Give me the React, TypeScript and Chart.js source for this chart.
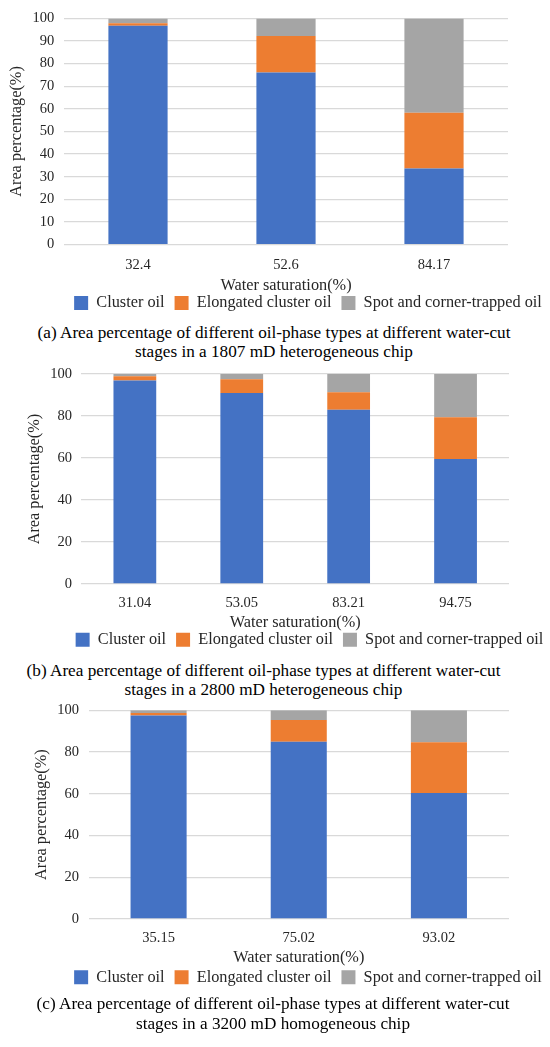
import React, { useEffect, useRef } from 'react';
import { Chart, ChartConfiguration, registerables } from 'chart.js';

Chart.register(...registerables);

// series names
const seriesNames = ['Cluster oil', 'Elongated cluster oil', 'Spot and corner-trapped oil'];
const seriesColors = ['#4472C4', '#ED7D31', '#A5A5A5'];

// (a) 1807 mD heterogeneous chip
const aLabels = ['32.4', '52.6', '84.17'];
const aCluster = [96.7, 76.1, 33.6];
const aElongated = [1.2, 16.1, 24.7];
const aSpot = [2.1, 7.8, 41.7];

// (b) 2800 mD heterogeneous chip
const bLabels = ['31.04', '53.05', '83.21', '94.75'];
const bCluster = [97.0, 91.0, 83.0, 59.5];
const bElongated = [2.0, 6.5, 8.3, 19.9];
const bSpot = [1.0, 2.5, 8.7, 20.6];

// (c) 3200 mD homogeneous chip
const cLabels = ['35.15', '75.02', '93.02'];
const cCluster = [97.5, 84.9, 60.4];
const cElongated = [1.2, 10.4, 24.2];
const cSpot = [1.3, 4.7, 15.4];

const FONT = "'Liberation Serif', 'Times New Roman', serif";
const TEXT = '#262626';

// moves the legend sideways after layout (legend is centred on the whole canvas otherwise)
const shiftLegend = {
  id: 'shiftLegend',
  afterLayout(chart: any, _args: any, opts: any) {
    const legend = chart.legend;
    if (!legend || !opts || !opts.dx) return;
    legend.left += opts.dx;
    legend.right += opts.dx;
  },
};

interface PanelProps {
  labels: string[];
  cluster: number[];
  elongated: number[];
  spot: number[];
  top: number;
  height: number;
  padding: { top: number; left: number; right: number; bottom: number };
  yWidth: number;
  yTitleOffset: number;
  yStep: number;
  yTickPad: number;
  xTickLen: number;
  xTitlePad: { top: number; bottom: number };
  legendDx: number;
}

const Panel: React.FC<PanelProps> = (p) => {
  const canvasRef = useRef<HTMLCanvasElement>(null);

  useEffect(() => {
    if (!canvasRef.current) return;
    const ctx = canvasRef.current.getContext('2d');
    if (!ctx) return;

    const values = [p.cluster, p.elongated, p.spot];

    const config: ChartConfiguration<'bar'> = {
      type: 'bar',
      data: {
        labels: p.labels,
        datasets: values.map((v, i) => ({
          label: seriesNames[i],
          data: v,
          backgroundColor: seriesColors[i],
          borderWidth: 0,
          barPercentage: 0.4,
          categoryPercentage: 1,
        })),
      },
      plugins: [shiftLegend],
      options: {
        animation: false,
        responsive: true,
        maintainAspectRatio: false,
        layout: { padding: p.padding },
        plugins: {
          legend: {
            position: 'bottom',
            labels: {
              font: { family: FONT, size: 16.3 },
              color: TEXT,
              boxWidth: 14,
              boxHeight: 14,
              padding: 10,
            },
          },
          tooltip: { enabled: false },
          shiftLegend: { dx: p.legendDx },
        } as any,
        scales: {
          x: {
            stacked: true,
            grid: { display: true, drawOnChartArea: false, drawTicks: true, tickLength: p.xTickLen, tickColor: 'rgba(0,0,0,0)' },
            border: { display: false },
            ticks: { font: { family: FONT, size: 14.5 }, color: TEXT, padding: 2, maxRotation: 0 },
            title: {
              display: true,
              text: 'Water saturation(%)',
              font: { family: FONT, size: 16.3, lineHeight: 1 },
              color: TEXT,
              padding: p.xTitlePad,
            },
          },
          y: {
            stacked: true,
            min: 0,
            max: 100,
            afterFit: (scale: any) => {
              scale.width = p.yWidth;
            },
            grid: { color: '#D9D9D9', lineWidth: 1.3, drawTicks: false },
            border: { display: false },
            ticks: { stepSize: p.yStep, font: { family: FONT, size: 14.5 }, color: TEXT, padding: p.yTickPad },
            title: {
              display: true,
              text: 'Area percentage(%)',
              font: { family: FONT, size: 16.3 },
              color: TEXT,
              padding: { top: p.yTitleOffset, bottom: 0 },
            },
          },
        },
      },
    };

    const chart = new Chart(ctx, config);
    return () => {
      chart.destroy();
    };
  }, [p]);

  return (
    <div style={{ position: 'absolute', left: 0, top: p.top, width: 550, height: p.height }}>
      <canvas ref={canvasRef} />
    </div>
  );
};

const Caption: React.FC<{ top: number; center: number; lines: string[] }> = ({ top, center, lines }) => (
  <div
    style={{
      position: 'absolute',
      top,
      left: 0,
      width: center * 2,
      textAlign: 'center',
      fontFamily: FONT,
      fontSize: 17.2,
      lineHeight: '19.5px',
      color: '#000',
      whiteSpace: 'nowrap',
    }}
  >
    {lines.map((l) => (
      <div key={l}>{l}</div>
    ))}
  </div>
);

const panelA: PanelProps = {
  labels: aLabels, cluster: aCluster, elongated: aElongated, spot: aSpot,
  top: 0, height: 322,
  padding: { top: 17.3, left: 0, right: 42, bottom: 0.75 },
  yWidth: 64, yTitleOffset: 6.9, yStep: 10, yTickPad: 9.7,
  xTickLen: 10, xTitlePad: { top: 2, bottom: -9.35 }, legendDx: 54,
};

const panelB: PanelProps = {
  labels: bLabels, cluster: bCluster, elongated: bElongated, spot: bSpot,
  top: 356, height: 302,
  padding: { top: 14.7, left: 0, right: 41, bottom: 0.15 },
  yWidth: 81.4, yTitleOffset: 25.2, yStep: 20, yTickPad: 9.4,
  xTickLen: 8.6, xTitlePad: { top: 0.55, bottom: -9.3 }, legendDx: 55,
};

const panelC: PanelProps = {
  labels: cLabels, cluster: cCluster, elongated: cElongated, spot: cSpot,
  top: 692, height: 304,
  padding: { top: 13.3, left: 0, right: 41, bottom: 0.55 },
  yWidth: 88.5, yTitleOffset: 32.4, yStep: 20, yTickPad: 9.5,
  xTickLen: 8.6, xTitlePad: { top: 0.55, bottom: -6.7 }, legendDx: 53.5,
};

export default function App() {
  return (
    <div style={{ position: 'absolute', left: 0, top: 0, width: 550, height: 1047, background: '#fff', overflow: 'hidden' }}>
      <Panel {...panelA} />
      <Caption
        top={322.75}
        center={274}
        lines={[
          '(a) Area percentage of different oil-phase types at different water-cut',
          'stages in a 1807 mD heterogeneous chip',
        ]}
      />
      <Panel {...panelB} />
      <Caption
        top={660.75}
        center={263.5}
        lines={[
          '(b) Area percentage of different oil-phase types at different water-cut',
          'stages in a 2800 mD heterogeneous chip',
        ]}
      />
      <Panel {...panelC} />
      <Caption
        top={994.25}
        center={273}
        lines={[
          '(c) Area percentage of different oil-phase types at different water-cut',
          'stages in a 3200 mD homogeneous chip',
        ]}
      />
    </div>
  );
}
